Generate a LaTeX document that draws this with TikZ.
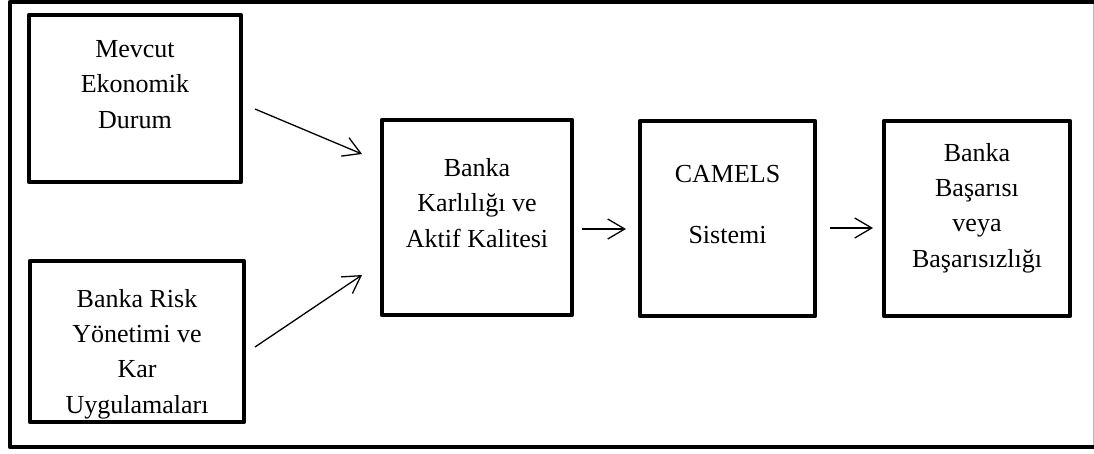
\documentclass[tikz,border=0pt]{standalone}
\usepackage{fontspec}
\setmainfont{Liberation Serif}
\usetikzlibrary{arrows.meta}

\tikzset{
  frame/.style={draw=black, line width=4.6pt, line join=round},
  box/.style={draw=black, line width=4.4pt, line join=round, inner sep=0pt, rectangle},
  % anchored at the baseline of the last line
  label/.style={align=center, inner sep=0pt, anchor=base,
    font=\fontsize{26}{35.2}\selectfont},
  arr/.style={draw=black, line width=1.3pt,
    -{Straight Barb[length=17pt,width=20pt,line width=1.3pt]}},
}

\begin{document}
\begin{tikzpicture}[x=1pt,y=-1pt]
\useasboundingbox (0,0) rectangle (1094,453);

% outer frame (its right edge runs past the page)
\draw[frame] (10,2) rectangle (1102,447);
\draw[gray!55, line width=1pt] (1093.5,4) -- (1093.5,445);

% boxes
\node[box, minimum width=212pt, minimum height=167pt] (b1) at (135,98.5) {};
\node[box, minimum width=214pt, minimum height=161pt] (b2) at (137,341.5) {};
\node[box, minimum width=190pt, minimum height=195pt] (b3) at (477,217.5) {};
\node[box, minimum width=175pt, minimum height=195pt] (b4) at (727.5,218.5) {};
\node[box, minimum width=186pt, minimum height=195pt] (b5) at (977,218.5) {};

% box texts
\node[label] (t1) at (135,128) {Mevcut\\Ekonomik\\Durum};
\node[label] (t2) at (137,413) {Banka Risk\\Yönetimi ve\\Kar\\Uygulamaları};
\node[label] (t3) at (477,247) {Banka\\Karlılığı ve\\Aktif Kalitesi};
\node[label] (t4) at (727.5,243) {CAMELS\\[25.8pt]Sistemi};
\node[label] (t5) at (977,267) {Banka\\Başarısı\\veya\\Başarısızlığı};

% arrow end points
\coordinate (a1s) at (255,109);
\coordinate (a1e) at (362,154);
\coordinate (a2s) at (255,347);
\coordinate (a2e) at (362,275);
\coordinate (a3s) at (582,229);
\coordinate (a3e) at (626,229);
\coordinate (a4s) at (830,228);
\coordinate (a4e) at (873,228);

% arrows
\draw[arr] (a1s) -- (a1e);
\draw[arr] (a2s) -- (a2e);
\draw[arr] (a3s) -- (a3e);
\draw[arr] (a4s) -- (a4e);
\end{tikzpicture}
\end{document}
